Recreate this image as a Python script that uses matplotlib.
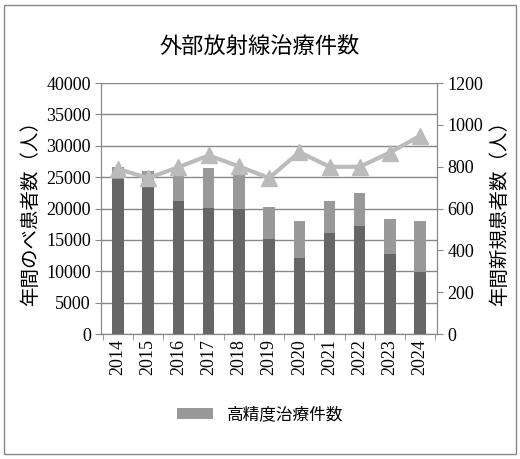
import matplotlib
matplotlib.use("Agg")
import matplotlib.pyplot as plt
from matplotlib.patches import Rectangle

years = ["2014", "2015", "2016", "2017", "2018", "2019", "2020", "2021", "2022", "2023", "2024"]
base_cases = [24700, 23400, 21200, 20100, 19900, 15200, 12100, 16100, 17200, 12800, 9900]
precise_cases = [1950, 2600, 4450, 6350, 5950, 5100, 5900, 5100, 5250, 5600, 8100]
new_patients = [789, 746, 798, 854, 802, 746, 870, 800, 800, 868, 948]

plt.rcParams['font.family'] = ['Liberation Serif', 'Noto Sans CJK JP']

fig = plt.figure(figsize=(5.2, 4.59), dpi=100)
fig.patches.append(Rectangle((0.008, 0.01), 0.984, 0.98, transform=fig.transFigure,
                             fill=False, edgecolor='#888888', lw=1))
ax = fig.add_axes([0.195, 0.272, 0.645, 0.547])
x = range(len(years))
ax.bar(x, base_cases, width=0.38, color='#666666', zorder=2)
ax.bar(x, precise_cases, width=0.38, bottom=base_cases, color='#999999', zorder=2,
       label='高精度治療件数')
ax.set_ylim(0, 40000)
ax.set_yticks(range(0, 40001, 5000))
ax.set_xlim(-0.55, len(years) - 0.45)
ax.set_xticks(list(x))
ax.set_xticklabels(years, rotation=90, fontsize=13)
ax.set_xticks([i + 0.5 for i in range(-1, len(years))], minor=True)
ax.tick_params(axis='y', labelsize=13, length=4, color='#888888')
ax.tick_params(axis='x', which='major', length=0)
ax.tick_params(axis='x', which='minor', length=4, color='#888888')
ax.grid(axis='y', color='#888888', lw=1, zorder=0)
ax.spines['top'].set_visible(False)
for s in ['left', 'right', 'bottom']:
    ax.spines[s].set_color('#888888')
ax.set_ylabel('年間のべ患者数（人）', fontsize=14, family=['Noto Sans CJK JP'])

ax2 = ax.twinx()
ax2.plot(list(x), new_patients, color='#bbbbbb', lw=3, marker='^', markersize=11,
         markerfacecolor='#bbbbbb', markeredgecolor='#bbbbbb', zorder=3)
ax2.set_ylim(0, 1200)
ax2.set_yticks(range(0, 1201, 200))
ax2.tick_params(axis='y', labelsize=13, length=4, color='#888888')
ax2.spines['top'].set_visible(False)
for s in ['left', 'right', 'bottom']:
    ax2.spines[s].set_color('#888888')
ax2.set_ylabel('年間新規患者数（人）', fontsize=14, family=['Noto Sans CJK JP'])

fig.text(0.5, 0.885, '外部放射線治療件数', ha='center', fontsize=16,
         family=['Noto Sans CJK JP'])
fig.legend(loc='lower center', bbox_to_anchor=(0.5, 0.045), frameon=False,
           prop={'family': 'Noto Sans CJK JP', 'size': 12}, handlelength=2.2)

fig.savefig('out.png', dpi=100)
